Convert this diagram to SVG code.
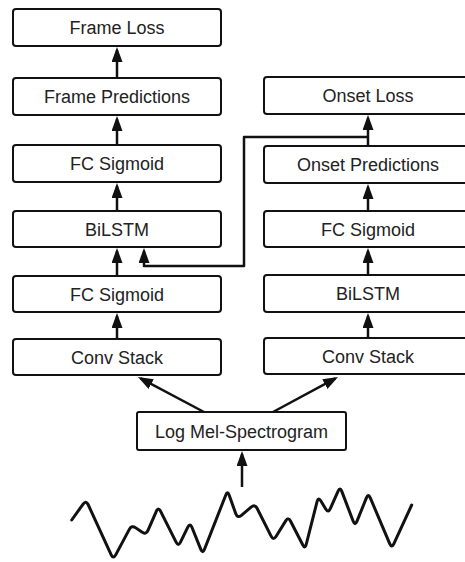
<svg xmlns="http://www.w3.org/2000/svg" width="465" height="562" viewBox="0 0 465 562">
<style>
.box{fill:#fff;stroke:#111;stroke-width:2}
.lbl{font-family:"Liberation Sans",Arial,sans-serif;font-size:18px;fill:#222;text-anchor:middle}
.edge{fill:none;stroke:#111;stroke-width:2.5;stroke-linejoin:round}
.wave{fill:none;stroke:#111;stroke-width:3;stroke-linejoin:round;stroke-linecap:round}
</style>
<defs>
<marker id="ah" markerUnits="userSpaceOnUse" markerWidth="15" markerHeight="11" viewBox="0 0 15 11" refX="12" refY="5.5" orient="auto">
<path d="M0,0 L15,5.5 L0,11 z" fill="#111"/>
</marker>
</defs>
<rect width="465" height="562" fill="#fff"/>
<g id="frame-loss"><rect class="box" x="13" y="9" width="208" height="37" rx="3"/><text class="lbl" x="117" y="34">Frame Loss</text></g>
<g id="frame-predictions"><rect class="box" x="13" y="78" width="208" height="37" rx="3"/><text class="lbl" x="117" y="103">Frame Predictions</text></g>
<g id="frame-fc"><rect class="box" x="13" y="145" width="208" height="37" rx="3"/><text class="lbl" x="117" y="170">FC Sigmoid</text></g>
<g id="frame-bilstm"><rect class="box" x="13" y="211" width="208" height="36" rx="3"/><text class="lbl" x="117" y="235.5">BiLSTM</text></g>
<g id="frame-fc2"><rect class="box" x="13" y="276" width="208" height="36" rx="3"/><text class="lbl" x="117" y="300.5">FC Sigmoid</text></g>
<g id="frame-conv"><rect class="box" x="13" y="339" width="208" height="36" rx="3"/><text class="lbl" x="117" y="363.5">Conv Stack</text></g>
<g id="onset-loss"><rect class="box" x="264" y="77" width="208" height="37" rx="3"/><text class="lbl" x="368" y="102">Onset Loss</text></g>
<g id="onset-predictions"><rect class="box" x="264" y="146" width="208" height="37" rx="3"/><text class="lbl" x="368" y="171">Onset Predictions</text></g>
<g id="onset-fc"><rect class="box" x="264" y="211" width="208" height="36" rx="3"/><text class="lbl" x="368" y="235.5">FC Sigmoid</text></g>
<g id="onset-bilstm"><rect class="box" x="264" y="275" width="208" height="37" rx="3"/><text class="lbl" x="368" y="300">BiLSTM</text></g>
<g id="onset-conv"><rect class="box" x="264" y="338" width="208" height="36" rx="3"/><text class="lbl" x="368" y="362.5">Conv Stack</text></g>
<g id="log-mel"><rect class="box" x="137" y="412" width="209" height="38" rx="2"/><text class="lbl" x="241.5" y="437.5">Log Mel-Spectrogram</text></g>
<g id="waveform"><path class="wave" d="M71.7,520 L83.1,504.1 Q86,500 88.1,504.5 L111.2,554.8 Q113.3,559.3 115.7,554.9 L129.3,529.4 Q131.7,525 135.8,527.9 L141.9,532.1 Q146,535 148,530.4 L156.3,511.3 Q158.3,506.7 160.5,511.2 L176.1,542.2 Q178.3,546.7 180.5,542.2 L187.8,527.2 Q190,522.7 191.9,527.3 L200.8,549.4 Q202.7,554 204.5,549.3 L225.7,495.2 Q227.5,490.5 229.2,495.2 L235.8,513.8 Q237.5,518.5 241.4,515.3 L251.1,507.2 Q255,504 257.2,508.5 L271.1,536.2 Q273.3,540.7 276,536.5 L285.7,520.9 Q288.3,516.7 290.6,521.2 L302.7,544.8 Q305,549.3 306.2,544.5 L317.1,501.5 Q318.3,496.7 320.9,501 L325.7,509 Q328.3,513.3 330.3,508.7 L338,491.3 Q340,486.7 341.8,491.4 L353.2,521.3 Q355,526 356.9,521.4 L366.4,497.9 Q368.3,493.3 370.3,497.9 L389.7,543.7 Q391.7,548.3 393.8,543.8 L411.7,505"/></g>
<g id="connectors">
<line class="edge" x1="117" y1="78" x2="117" y2="50" marker-end="url(#ah)"/>
<line class="edge" x1="117" y1="145" x2="117" y2="119" marker-end="url(#ah)"/>
<line class="edge" x1="117" y1="211" x2="117" y2="186" marker-end="url(#ah)"/>
<line class="edge" x1="117" y1="276" x2="117" y2="251" marker-end="url(#ah)"/>
<line class="edge" x1="117" y1="339" x2="117" y2="316" marker-end="url(#ah)"/>
<line class="edge" x1="368" y1="146" x2="368" y2="118" marker-end="url(#ah)"/>
<line class="edge" x1="368" y1="211" x2="368" y2="187" marker-end="url(#ah)"/>
<line class="edge" x1="368" y1="275" x2="368" y2="251" marker-end="url(#ah)"/>
<line class="edge" x1="368" y1="338" x2="368" y2="316" marker-end="url(#ah)"/>
<path class="edge" d="M368,137 H244 V266 H144 V251" marker-end="url(#ah)"/>
<line class="edge" x1="204" y1="412" x2="140.6" y2="378.4" marker-end="url(#ah)"/>
<line class="edge" x1="273" y1="412" x2="335.4" y2="378.4" marker-end="url(#ah)"/>
<line class="edge" x1="242" y1="487" x2="242" y2="454" marker-end="url(#ah)"/>
</g>
</svg>
